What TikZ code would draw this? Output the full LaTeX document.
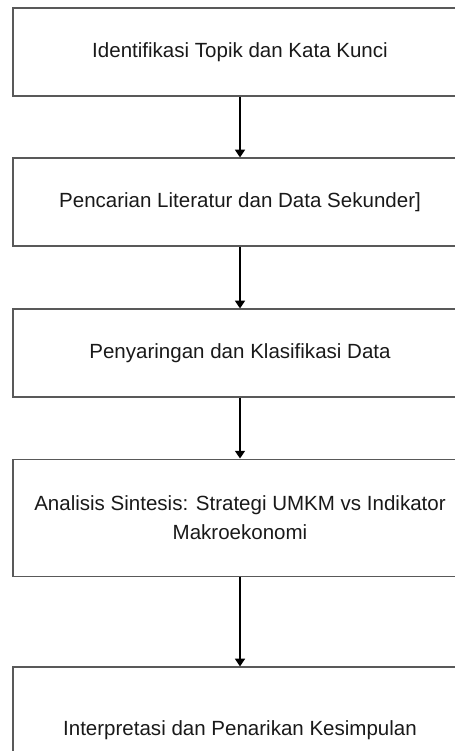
\documentclass[tikz,border=0pt]{standalone}
\usepackage{fontspec}
\setmainfont{Liberation Sans}
\usetikzlibrary{arrows.meta}
\begin{document}
\begin{tikzpicture}
    \tikzset{block/.style= {draw=black!65,
                            line width=0.8pt,
                            rectangle,
                            align=center,
                            text=black!90,
                            font=\fontsize{14.6}{20.6}\selectfont,
                            minimum width=11.35cm,
                            minimum height=2.2cm},
             tall/.style=  {block,
                            minimum height=2.925cm},
             flow/.style=  {line width=1.4pt,
                            -{Triangle[width=7pt,length=5.5pt]}},
            }
    \useasboundingbox (0,0) rectangle (11.35,-18.775);
    \path
    (6,-1.3)    node[block](id)  {Identifikasi Topik dan Kata Kunci}
    (6,-5.05)   node[block](lit) {Pencarian Literatur dan Data Sekunder]}
    (6,-8.825)  node[block](sar) {Penyaringan dan Klasifikasi Data}
    (6,-12.94)  node[tall](ana)  {Analisis Sintesis: Strategi UMKM vs Indikator\\Makroekonomi}
    (6,-18.25)  node[block,minimum height=3.15cm](int) {Interpretasi dan Penarikan Kesimpulan}
    ;
    \draw[flow] (id)  -- (lit);
    \draw[flow] (lit) -- (sar);
    \draw[flow] (sar) -- (ana);
    \draw[flow] (ana) -- (int);
\end{tikzpicture}
\end{document}
